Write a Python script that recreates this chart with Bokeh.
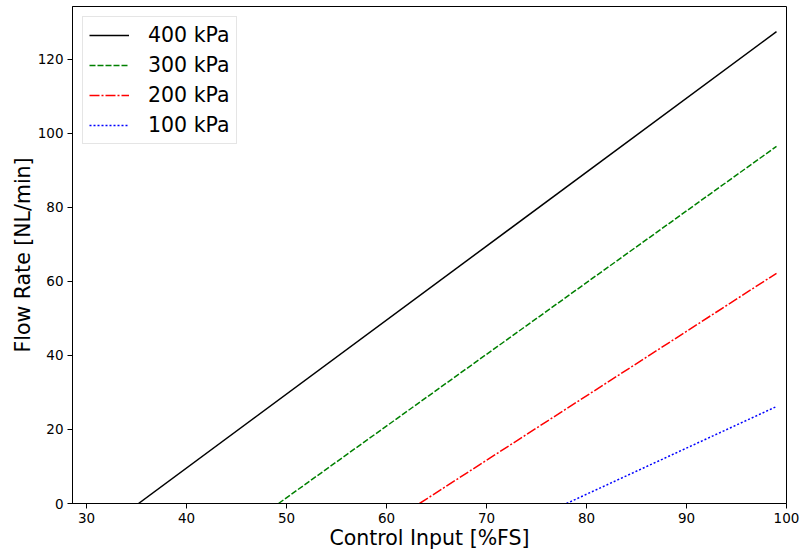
from bokeh.plotting import figure
from bokeh.models import Range1d, FixedTicker, Legend, LegendItem
from bokeh.embed import file_html
from bokeh.resources import INLINE

labels = ["400 kPa", "300 kPa", "200 kPa", "100 kPa"]
x_zero = [35.2, 49.2, 63.3, 78.0]      # control input where flow becomes 0
x_end = [99, 99, 99, 99]
y_end = [127.5, 96.5, 62.2, 26.2]      # flow at 99 %FS
colors = ["#000000", "#008000", "#ff0000", "#0000ff"]
dashes = ["solid", "6 2", "10 2 2 2", "2 2"]

x_ticks = [30, 40, 50, 60, 70, 80, 90, 100]
y_ticks = [0, 20, 40, 60, 80, 100, 120]

p = figure(width=801, height=552, output_backend="svg", toolbar_location=None,
           x_range=Range1d(28.6, 100), y_range=Range1d(0, 134.3),
           min_border_left=72, min_border_right=15, min_border_top=6, min_border_bottom=49)
p.grid.visible = False
p.outline_line_color = "black"
p.outline_line_width = 1
p.background_fill_color = "white"
p.border_fill_color = "white"

p.xaxis.axis_label = "Control Input [%FS]"
p.yaxis.axis_label = "Flow Rate [NL/min]"
p.xaxis.ticker = FixedTicker(ticks=x_ticks)
p.yaxis.ticker = FixedTicker(ticks=y_ticks)
for ax in (p.xaxis, p.yaxis):
    ax.axis_label_text_font = "DejaVu Sans"
    ax.axis_label_text_font_size = "20.5px"
    ax.axis_label_text_font_style = "normal"
    ax.axis_label_text_color = "black"
    ax.major_label_text_font = "DejaVu Sans"
    ax.major_label_text_font_size = "13.5px"
    ax.major_label_text_color = "black"
    ax.minor_tick_line_color = None
    ax.major_tick_out = 5
    ax.major_tick_in = 0
    ax.major_tick_line_color = "black"
    ax.axis_line_color = "black"
    ax.major_label_standoff = 4
p.xaxis.axis_label_standoff = 0
p.yaxis.axis_label_standoff = 0
p.yaxis.major_label_orientation = "horizontal"

items = []
for lab, x0, x1, y1, c, d in zip(labels, x_zero, x_end, y_end, colors, dashes):
    r = p.line([x0, x1], [0, y1], line_color=c, line_width=1.5, line_dash=d)
    items.append(LegendItem(label=lab, renderers=[r]))

legend = Legend(items=items, location="top_left")
legend.margin = 10
legend.padding = 6
legend.spacing = 6
legend.glyph_width = 40
legend.glyph_height = 20
legend.label_height = 20
legend.label_standoff = 19
legend.label_text_font = "DejaVu Sans"
legend.label_text_font_size = "20.5px"
legend.label_text_color = "black"
legend.border_line_color = "#cccccc"
legend.border_line_width = 1
legend.background_fill_color = "white"
legend.background_fill_alpha = 0.8
p.add_layout(legend, "center")

open("out.html", "w").write(file_html(p, INLINE))
